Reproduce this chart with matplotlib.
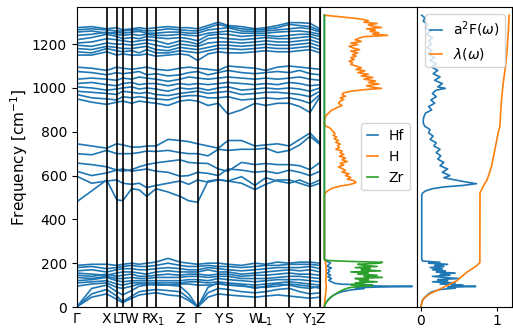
import matplotlib

matplotlib.use("Agg")
import matplotlib.pyplot as plt
import numpy as np

# path: high-symmetry points plus a few mid-segment knots
knot_x = [0, 15, 30, 40, 46, 55, 62.5, 70, 79.3, 91.3, 103.3, 112, 121,
          131.3, 141.6, 151.3, 164.8, 178.3, 189, 200.8, 212.6, 223, 233.3, 243.3]
hs_x = [0, 30, 40, 46, 55, 70, 79.3, 103.3, 121, 141.6, 151.3, 178.3, 189, 212.6, 233.3, 243.3]
hs_labels = ["Γ", "X", "L", "T", "W", "R", "X$_1$", "Z", "Γ", "Y", "S", "W", "L$_1$", "Y", "Y$_1$", "Z"]

low_bands = [
    [0, 45, 60, 35, 20, 40, 55, 60, 65, 55, 50, 30, 0, 45, 60, 55, 50, 45, 50, 55, 50, 45, 40, 45],
    [0, 60, 80, 50, 25, 50, 70, 75, 80, 75, 70, 40, 0, 65, 85, 80, 70, 65, 70, 80, 85, 70, 60, 65],
    [0, 85, 100, 70, 55, 75, 95, 100, 105, 100, 95, 60, 0, 90, 110, 100, 100, 85, 95, 105, 100, 90, 85, 95],
    [95, 105, 110, 90, 85, 95, 105, 105, 100, 100, 105, 105, 100, 100, 105, 100, 95, 90, 90, 95, 105, 100, 95, 85],
    [110, 115, 120, 105, 100, 110, 110, 110, 110, 110, 110, 115, 115, 110, 115, 110, 105, 100, 105, 110, 115, 110, 105, 100],
    [120, 125, 135, 120, 115, 120, 120, 120, 120, 120, 120, 125, 125, 120, 130, 125, 120, 115, 120, 125, 125, 125, 120, 115],
    [135, 130, 140, 130, 130, 135, 130, 130, 135, 135, 135, 140, 140, 135, 140, 140, 130, 130, 130, 135, 140, 140, 135, 130],
    [145, 140, 150, 140, 145, 150, 140, 140, 145, 150, 145, 150, 150, 145, 150, 150, 140, 145, 145, 150, 155, 150, 150, 145],
    [155, 150, 145, 155, 160, 160, 155, 150, 160, 165, 160, 160, 160, 170, 160, 160, 150, 155, 160, 165, 170, 165, 170, 160],
    [165, 170, 160, 170, 175, 175, 170, 170, 175, 180, 175, 170, 170, 180, 175, 170, 165, 170, 175, 180, 180, 180, 185, 175],
    [180, 185, 175, 180, 185, 190, 185, 185, 190, 200, 190, 185, 185, 190, 185, 185, 180, 185, 190, 190, 195, 195, 195, 190],
    [190, 195, 195, 190, 195, 200, 195, 200, 205, 222, 205, 200, 195, 200, 200, 195, 190, 200, 195, 205, 200, 205, 205, 200],
]

mid_bands = [
    [745, 735, 725, 745, 740, 730, 730, 735, 735, 765, 760, 755, 745, 735, 725, 760, 760, 735, 740, 745, 735, 765, 794, 748],
    [700, 695, 715, 700, 700, 700, 705, 712, 710, 715, 705, 700, 700, 690, 720, 715, 720, 720, 725, 705, 715, 740, 779, 742],
    [657, 650, 640, 625, 620, 627, 640, 650, 658, 665, 672, 660, 657, 655, 630, 620, 660, 650, 655, 650, 650, 645, 627, 660],
    [620, 600, 612, 625, 630, 620, 625, 630, 620, 615, 597, 600, 615, 610, 600, 630, 625, 615, 620, 610, 625, 615, 600, 620],
    [597, 565, 575, 580, 565, 560, 565, 545, 555, 565, 575, 560, 580, 570, 580, 575, 595, 555, 590, 575, 565, 580, 560, 580],
    [480, 530, 580, 490, 485, 540, 535, 505, 540, 525, 505, 485, 478, 575, 582, 575, 565, 536, 560, 580, 580, 565, 550, 565],
]

high_bands = [
    [1275, 1280, 1270, 1275, 1265, 1270, 1275, 1270, 1275, 1280, 1275, 1275, 1270, 1285, 1300, 1285, 1280, 1270, 1275, 1285, 1298, 1298, 1295, 1270],
    [1265, 1270, 1265, 1260, 1260, 1265, 1265, 1260, 1262, 1270, 1265, 1262, 1260, 1275, 1290, 1280, 1270, 1265, 1268, 1275, 1290, 1285, 1280, 1262],
    [1255, 1260, 1250, 1255, 1250, 1255, 1258, 1250, 1250, 1255, 1255, 1250, 1250, 1265, 1270, 1275, 1260, 1258, 1260, 1265, 1270, 1275, 1270, 1255],
    [1240, 1245, 1255, 1245, 1240, 1245, 1240, 1245, 1240, 1240, 1245, 1240, 1238, 1250, 1255, 1260, 1250, 1250, 1250, 1255, 1258, 1260, 1255, 1245],
    [1220, 1230, 1245, 1235, 1225, 1230, 1225, 1235, 1230, 1225, 1230, 1225, 1215, 1240, 1245, 1245, 1235, 1240, 1240, 1235, 1240, 1245, 1245, 1235],
    [1205, 1210, 1225, 1220, 1215, 1210, 1215, 1220, 1215, 1200, 1215, 1210, 1200, 1225, 1230, 1225, 1220, 1225, 1230, 1225, 1225, 1230, 1235, 1220],
    [1195, 1190, 1205, 1200, 1200, 1195, 1200, 1205, 1195, 1185, 1200, 1195, 1190, 1205, 1210, 1210, 1205, 1210, 1215, 1210, 1210, 1215, 1220, 1205],
    [1180, 1175, 1190, 1185, 1180, 1180, 1185, 1190, 1175, 1170, 1185, 1180, 1175, 1185, 1195, 1195, 1190, 1195, 1200, 1195, 1195, 1200, 1205, 1190],
    [1165, 1160, 1180, 1170, 1165, 1170, 1160, 1175, 1160, 1160, 1170, 1165, 1160, 1170, 1180, 1180, 1175, 1180, 1185, 1180, 1180, 1185, 1190, 1175],
    [1150, 1150, 1165, 1150, 1155, 1150, 1150, 1155, 1145, 1150, 1155, 1150, 1125, 1155, 1165, 1160, 1160, 1165, 1170, 1165, 1165, 1170, 1175, 1160],
    [1095, 1090, 1080, 1095, 1090, 1085, 1090, 1095, 1085, 1080, 1090, 1095, 1090, 1085, 1080, 1100, 1095, 1090, 1080, 1095, 1100, 1095, 1090, 1085],
    [1075, 1070, 1060, 1070, 1065, 1070, 1075, 1060, 1065, 1055, 1060, 1070, 1075, 1060, 1070, 1080, 1070, 1065, 1070, 1075, 1070, 1080, 1065, 1060],
    [1040, 1045, 1040, 1035, 1045, 1040, 1050, 1045, 1040, 1030, 1040, 1050, 1045, 1040, 1045, 1050, 1045, 1040, 1045, 1040, 1045, 1050, 1040, 1035],
    [1020, 1025, 1015, 1010, 1020, 1025, 1015, 1020, 1020, 1010, 1020, 1015, 1020, 1015, 1020, 1025, 1020, 1015, 1020, 1015, 1025, 1020, 1010, 1015],
    [1005, 1000, 990, 995, 1000, 1005, 995, 1000, 995, 985, 1000, 995, 1000, 990, 1000, 1005, 990, 995, 1000, 995, 1000, 995, 985, 1000],
    [985, 980, 975, 970, 985, 980, 975, 980, 970, 965, 975, 980, 985, 975, 980, 985, 970, 975, 980, 980, 975, 970, 960, 985],
    [970, 955, 950, 945, 960, 955, 960, 955, 950, 945, 960, 965, 965, 955, 955, 960, 945, 950, 955, 950, 955, 945, 930, 970],
    [950, 935, 925, 935, 940, 930, 940, 935, 930, 920, 940, 945, 940, 920, 930, 880, 900, 930, 920, 930, 930, 915, 888, 960],
]

# projected phonon DOS
h_freq = [0, 20, 50, 80, 100, 120, 150, 180, 210, 220, 505, 510, 520, 528, 536, 544, 552, 560, 568, 576,
          584, 592, 600, 608, 616, 624, 632, 640, 648, 656, 664, 672, 680, 688, 696, 704, 712, 720,
          728, 736, 744, 752, 760, 768, 776, 784, 792, 800, 810, 818, 825, 835, 850, 865, 875, 882,
          890, 898, 905, 912, 920, 930, 940, 947, 955, 962, 970, 978, 985, 992, 998, 1003, 1010,
          1018, 1025, 1032, 1040, 1048, 1055, 1062, 1070, 1078, 1085, 1092, 1100, 1108, 1115, 1122,
          1130, 1138, 1145, 1152, 1160, 1168, 1175, 1182, 1190, 1198, 1205, 1212, 1220, 1228, 1234,
          1240, 1246, 1252, 1258, 1264, 1270, 1276, 1282, 1288, 1294, 1300, 1307, 1314, 1320, 1326, 1332]
h_dos = [0, 0.003, 0.01, 0.02, 0.02, 0.015, 0.02, 0.02, 0.01, 0.0, 0.0, 0.0, 0.01, 0.03, 0.06, 0.10, 0.18, 0.30,
         0.36, 0.34, 0.26, 0.30, 0.24, 0.28, 0.20, 0.24, 0.20, 0.16, 0.22, 0.18, 0.26, 0.20, 0.24,
         0.17, 0.22, 0.18, 0.20, 0.13, 0.17, 0.15, 0.18, 0.13, 0.16, 0.11, 0.14, 0.10, 0.12, 0.10,
         0.08, 0.06, 0.02, 0.0, 0.0, 0.01, 0.02, 0.04, 0.06, 0.08, 0.12, 0.15, 0.20, 0.16, 0.18,
         0.22, 0.18, 0.24, 0.20, 0.22, 0.30, 0.45, 0.65, 0.55, 0.48, 0.62, 0.50, 0.58, 0.45, 0.55,
         0.42, 0.50, 0.38, 0.46, 0.36, 0.42, 0.36, 0.30, 0.32, 0.28, 0.34, 0.30, 0.36, 0.32, 0.38,
         0.30, 0.40, 0.33, 0.28, 0.38, 0.30, 0.42, 0.35, 0.40, 0.45, 0.72, 0.55, 0.62, 0.52, 0.58,
         0.48, 0.65, 0.55, 0.50, 0.60, 0.45, 0.50, 0.42, 0.30, 0.15, 0.0]
hf_freq = [0, 10, 20, 30, 40, 50, 60, 70, 78, 84, 88, 91, 94, 97, 100, 104, 108, 115, 122, 130, 138,
           146, 154, 162, 170, 178, 186, 194, 202, 208, 214, 220, 1332]
hf_dos = [0, 0.004, 0.015, 0.035, 0.06, 0.09, 0.13, 0.20, 0.30, 0.45, 0.35, 0.60, 1.0, 0.40, 0.55,
          0.20, 0.12, 0.08, 0.05, 0.08, 0.04, 0.07, 0.03, 0.06, 0.04, 0.08, 0.03, 0.05, 0.07, 0.03,
          0.01, 0.0, 0.0]
zr_freq = [0, 10, 20, 30, 40, 50, 60, 70, 80, 88, 94, 98, 102, 106, 110, 115, 120, 125, 130, 135, 140,
           145, 150, 155, 160, 165, 170, 175, 180, 185, 190, 195, 200, 204, 208, 212, 216, 1332]
zr_dos = [0, 0.005, 0.02, 0.04, 0.06, 0.09, 0.13, 0.17, 0.22, 0.28, 0.40, 0.55, 0.30, 0.45, 0.35,
          0.60, 0.40, 0.50, 0.35, 0.66, 0.45, 0.60, 0.38, 0.50, 0.30, 0.64, 0.42, 0.52, 0.35, 0.60,
          0.45, 0.38, 0.62, 0.66, 0.30, 0.05, 0.0, 0.0]

# Eliashberg function and cumulative lambda
a2f_freq = [0, 10, 20, 30, 40, 50, 60, 70, 80, 86, 90, 94, 97, 100, 105, 110, 115, 120, 125, 130,
            135, 140, 145, 150, 155, 160, 165, 170, 175, 180, 185, 190, 195, 200, 204, 210, 220,
            510, 520, 530, 540, 548, 555, 563, 570, 580, 590, 600, 615, 630, 645, 660, 675, 690,
            705, 720, 735, 750, 765, 780, 795, 810, 825, 840, 855, 870, 885, 900, 915, 930, 945,
            960, 975, 990, 998, 1005, 1020, 1035, 1050, 1065, 1080, 1095, 1110, 1125, 1140, 1155,
            1170, 1185, 1200, 1215, 1230, 1245, 1260, 1275, 1290, 1305, 1320, 1332]
a2f_val = [0, 0.005, 0.01, 0.02, 0.04, 0.07, 0.10, 0.15, 0.25, 0.45, 0.35, 0.72, 0.40, 0.55, 0.25,
           0.45, 0.15, 0.35, 0.22, 0.50, 0.30, 0.15, 0.38, 0.25, 0.45, 0.20, 0.32, 0.15, 0.28, 0.12,
           0.30, 0.18, 0.35, 0.10, 0.25, 0.02, 0.01, 0.01, 0.02, 0.06, 0.15, 0.30, 0.55, 0.73, 0.60,
           0.45, 0.30, 0.38, 0.28, 0.35, 0.25, 0.30, 0.22, 0.26, 0.20, 0.25, 0.17, 0.20, 0.12, 0.16,
           0.10, 0.12, 0.05, 0.03, 0.03, 0.04, 0.06, 0.14, 0.10, 0.18, 0.13, 0.20, 0.15, 0.20, 0.32,
           0.22, 0.28, 0.18, 0.25, 0.16, 0.22, 0.14, 0.20, 0.12, 0.18, 0.09, 0.14, 0.08, 0.14, 0.10,
           0.15, 0.07, 0.12, 0.06, 0.09, 0.03, 0.05, 0.01]
lam_freq = [0, 6, 36, 59, 89, 120, 158, 188, 203, 521, 551, 582, 642, 718, 794, 824, 945, 1021,
            1097, 1173, 1248, 1332]
lam_val = [0, 0.003, 0.025, 0.11, 0.29, 0.47, 0.60, 0.73, 0.773, 0.775, 0.817, 0.87, 0.926, 0.97,
           1.013, 1.035, 1.057, 1.079, 1.11, 1.131, 1.145, 1.158]

fig = plt.figure(figsize=(5.13, 3.28), dpi=100)
ax_b = fig.add_axes([0.1495, 0.064, 0.4743, 0.915])
ax_d = fig.add_axes([0.6238, 0.064, 0.1885, 0.915], sharey=ax_b)
ax_e = fig.add_axes([0.8123, 0.064, 0.1850, 0.915], sharey=ax_b)

blue = "#1f77b4"
for band in low_bands + mid_bands + high_bands:
    ax_b.plot(knot_x, band, color=blue, lw=1.2)
for x in hs_x:
    ax_b.axvline(x, color="black", lw=1.2)
ax_b.set_xticks(hs_x)
ax_b.set_xticklabels(hs_labels)
ax_b.tick_params(axis="x", length=0)
ax_b.set_xlim(hs_x[0], hs_x[-1])
ax_b.set_ylim(0, 1370)
ax_b.set_ylabel("Frequency [cm$^{-1}$]", fontsize=11, labelpad=1)

ax_d.plot(hf_dos, hf_freq, color="#1f77b4", lw=1.2, label="Hf")
ax_d.plot(h_dos, h_freq, color="#ff7f0e", lw=1.2, label="H")
ax_d.plot(zr_dos, zr_freq, color="#2ca02c", lw=1.2, label="Zr")
ax_d.set_xticks([])
ax_d.tick_params(left=False, labelleft=False)
ax_d.legend(loc="center right", handlelength=0.8)

ax_e.plot(a2f_val, a2f_freq, color="#1f77b4", lw=1.2, label="a$^2$F($\\omega$)")
ax_e.plot(lam_val, lam_freq, color="#ff7f0e", lw=1.2, label="$\\lambda(\\omega)$")
ax_e.set_xlim(-0.056, 1.19)
ax_e.set_xticks([0, 1])
ax_e.tick_params(axis="x", length=3, pad=2)
ax_e.tick_params(left=False, labelleft=False)
ax_e.legend(loc="upper right", handlelength=0.8)
ax_b.set_ylim(0, 1370)

fig.savefig("out.png", dpi=100)
